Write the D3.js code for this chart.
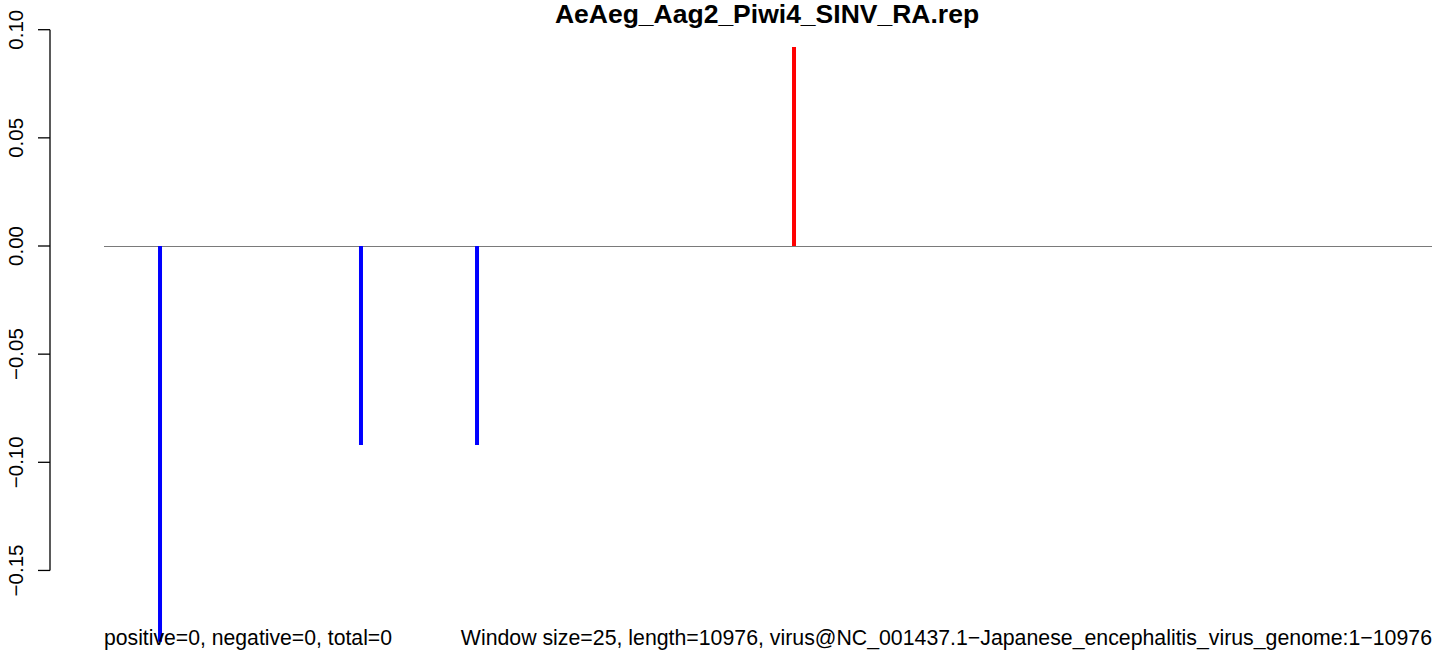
<!DOCTYPE html>
<html><head><meta charset="utf-8">
<script src="https://cdn.jsdelivr.net/npm/d3@7"></script>
<style>body{margin:0;background:#fff}text{font-family:"Liberation Sans",Arial,sans-serif}</style>
</head><body>
<svg id="c" width="1444" height="656"></svg>
<script>
const title = "AeAeg_Aag2_Piwi4_SINV_RA.rep";
const positions = [463, 2124, 3083, 5703];
const values = [-0.183, -0.092, -0.092, 0.092];
const yTicks = [0.10, 0.05, 0.00, -0.05, -0.10, -0.15];
const genomeLength = 10976;
const leftNote = "positive=0, negative=0, total=0";
const rightNote = "Window size=25, length=10976, virus@NC_001437.1\u2212Japanese_encephalitis_virus_genome:1\u221210976";

const svg = d3.select("#c");
const x = d3.scaleLinear().domain([0, genomeLength]).range([104, 1432]);
const y = d3.scaleLinear().domain([0, 0.10]).range([246, 29.7]);

// y axis
const axis = d3.axisLeft(y).tickValues(yTicks).tickSize(12).tickPadding(0)
  .tickFormat(d => d3.format(".2f")(d).replace("-", "\u2212"));
const g = svg.append("g").attr("transform", "translate(50,0)").call(axis);
g.select(".domain").attr("d", `M0,${y(0.10)}V${y(-0.15)}`).attr("stroke", "#000").attr("stroke-width", 1.3);
g.selectAll(".tick line").attr("stroke", "#000").attr("stroke-width", 1.3);
g.selectAll(".tick text").attr("fill", "#000").attr("font-size", 20.5)
  .attr("transform", d => `translate(-34.5,${y(d)}) rotate(-90)`)
  .attr("x", 0).attr("y", 0).attr("dy", "0.35em").attr("text-anchor", "middle");
g.selectAll(".tick").attr("transform", null);
g.selectAll(".tick line").attr("transform", d => `translate(0,${y(d)})`);

// baseline
svg.append("line").attr("x1", x(0)).attr("x2", x(genomeLength))
  .attr("y1", y(0) + 0.5).attr("y2", y(0) + 0.5).attr("stroke", "#7a7a7a").attr("stroke-width", 1);

// bars
svg.selectAll(".bar").data(positions.map((p, i) => ({p, v: values[i]}))).join("line")
  .attr("x1", d => x(d.p)).attr("x2", d => x(d.p))
  .attr("y1", y(0)).attr("y2", d => y(d.v))
  .attr("stroke", d => d.v < 0 ? "#0000ff" : "#ff0000").attr("stroke-width", 4);

// title
svg.append("text").attr("x", 767).attr("y", 23).attr("text-anchor", "middle")
  .attr("font-weight", "bold").attr("font-size", 26.5).text(title);

// bottom notes
svg.append("text").attr("x", 104).attr("y", 645).attr("font-size", 21.2).text(leftNote);
svg.append("text").attr("x", 1432).attr("y", 645).attr("text-anchor", "end").attr("font-size", 21.3).text(rightNote);
</script>
</body></html>
